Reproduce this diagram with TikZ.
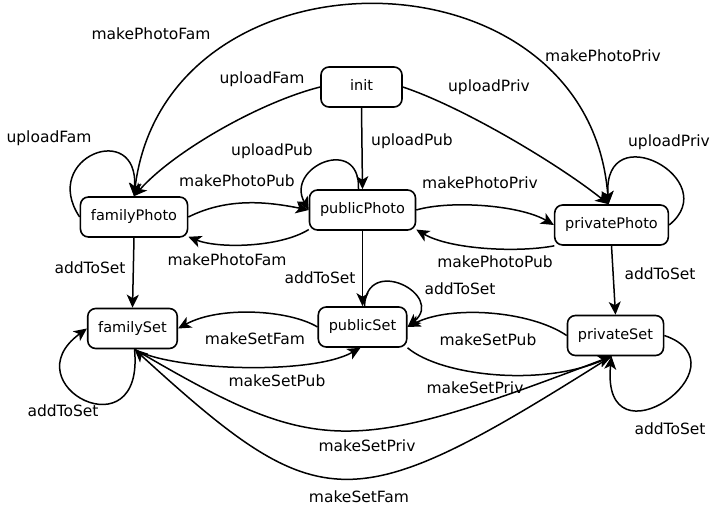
\documentclass[tikz,border=0pt]{standalone}
\usepackage{fontspec}
\setmainfont{DejaVu Sans}
\usetikzlibrary{arrows.meta,calc}
\begin{document}
\begin{tikzpicture}[x=1pt,y=-1pt,
  state/.style={draw, line width=1.6pt, rounded corners=8pt, minimum height=40pt,
    inner xsep=10.5pt, inner ysep=0pt, font=\fontsize{14.5}{17}\selectfont,
    text height=10.5pt, text depth=3.5pt},
  lbl/.style={inner sep=0pt, font=\fontsize{15.5}{18}\selectfont,
    text height=11.3pt, text depth=0pt},
  tip/.tip={Stealth[length=13pt,width=12pt,inset=3.5pt]},
  tr/.style={line width=1.5pt, -tip},
  trboth/.style={line width=1.5pt, tip-tip}]
\useasboundingbox (0,0) rectangle (711,510);

% states
\node[state, minimum width=81pt] (init) at (361.5,87) {init};
\node[state] (fP) at (134,217) {familyPhoto};
\node[state] (pP) at (362.5,210) {publicPhoto};
\node[state] (vP) at (611.5,225) {privatePhoto};
\node[state] (fS) at (132.5,328.5) {familySet};
\node[state] (pS) at (362.5,327) {publicSet};
\node[state] (vS) at (615.5,335.5) {privateSet};

\coordinate (fSb) at ($(fS.south)+(2,0)$);
\coordinate (vSb) at ($(vS.south)+(-4,0)$);
\coordinate (vPn) at ($(vP.north)+(-3,0)$);

% from init
\draw[tr] (init.west) .. controls +(-60,15) and +(40,-45) .. (fP.north);
\draw[tr] (init.east) .. controls +(60,20) and +(-50,-40) .. (vPn);
\draw[tr] (init.south) -- (pP.north);

% big arc: makePhotoFam (privatePhoto -> familyPhoto) and makePhotoPriv (familyPhoto -> privatePhoto)
\draw[trboth] (fP.north) .. controls +(32,-257) and +(-20,-262) .. (vPn);

% photo self loops
\draw[tr] (fP.west) .. controls +(-40,-60) and +(5,-77) .. (fP.north);
\draw[tr] ($(pP.north)+(-4,0)$) .. controls +(2,-55) and +(-24,-43) .. (pP.west);
\draw[tr] (vP.east) .. controls +(56,-45) and +(-6,-90) .. (vPn);

% photo transitions
\draw[tr] (fP.east) .. controls +(40,-20) and +(-40,-8) .. (pP.west);
\draw[tr] (pP.200) .. controls +(-29,18) and +(30,12) .. (fP.340);
\draw[tr] (pP.east) .. controls +(34,-10) and +(-34,-20) .. (vP.west);
\draw[tr] (vP.200) .. controls +(-36,7) and +(34,20) .. (pP.340);

% addToSet verticals
\draw[tr] (fP.south) -- (fS.north);
\draw[tr] (pP.south) -- (pS.north);
\draw[tr] (vP.south) -- (vS.north);

% set loops
\draw[tr] ($(pS.north)+(2,0)$) .. controls +(2,-52) and +(38,-32) .. (pS.east);
\draw[tr] (fSb) .. controls +(10.5,106) and +(-77,56.5) .. (fS.west);
\draw[tr] (vS.east) .. controls +(86,29.5) and +(-11.5,114.5) .. (vSb);

% set transitions
\draw[tr] (pS.west) .. controls +(-28,-17) and +(42,-23) .. (fS.east);
\draw[tr] (fSb) .. controls +(35,21) and +(-50,28) .. ($(pS.south)+(-2,0)$);
\draw[tr] (vS.west) .. controls +(-37,-25) and +(43,-22) .. (pS.east);
\draw[tr] (pS.south east) .. controls +(33,28) and +(-70,31) .. (vSb);
\draw[tr] (fSb) .. controls +(183,107) and +(-264.5,100.5) .. (vSb);
\draw[tr] (vSb) .. controls +(-260.5,164.5) and +(187.5,171) .. (fSb);

% labels
\node[lbl] (l1) at (151,34) {makePhotoFam};
\node[lbl] (l2) at (262,78) {uploadFam};
\node[lbl] (l3) at (49,137) {uploadFam};
\node[lbl] (l4) at (272,150) {uploadPub};
\node[lbl] (l5) at (237,181) {makePhotoPub};
\node[lbl] (l6) at (603,56) {makePhotoPriv};
\node[lbl] (l7) at (489,86) {uploadPriv};
\node[lbl] (l8) at (412,140) {uploadPub};
\node[lbl] (l9) at (669,141) {uploadPriv};
\node[lbl] (l10) at (480,183) {makePhotoPriv};
\node[lbl] (l11) at (227,260) {makePhotoFam};
\node[lbl] (l12) at (90,268) {addToSet};
\node[lbl] (l13) at (320,278) {addToSet};
\node[lbl] (l14) at (255,339) {makeSetFam};
\node[lbl] (l15) at (277,381) {makeSetPub};
\node[lbl] (l16) at (63,411) {addToSet};
\node[lbl] (l17) at (495,262) {makePhotoPub};
\node[lbl] (l18) at (660,274) {addToSet};
\node[lbl] (l19) at (460,289) {addToSet};
\node[lbl] (l20) at (488,340) {makeSetPub};
\node[lbl] (l21) at (475,388) {makeSetPriv};
\node[lbl] (l22) at (670,429) {addToSet};
\node[lbl] (l23) at (367,446) {makeSetPriv};
\node[lbl] (l24) at (359,497) {makeSetFam};
\end{tikzpicture}
\end{document}
